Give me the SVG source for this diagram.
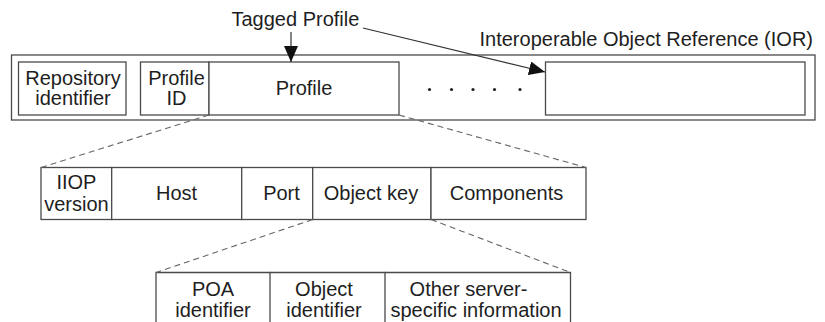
<svg xmlns="http://www.w3.org/2000/svg" width="825" height="322" viewBox="0 0 825 322">
  <style>
    text { font-family: "Liberation Sans", Arial, sans-serif; font-size: 20px; fill: #1e1e1e; }
    .mid { text-anchor: middle; }
    .box { fill: #ffffff; stroke: #4a4a4a; stroke-width: 1.3; }
    .edge { fill: none; stroke: #4a4a4a; stroke-width: 1.3; }
    .arrow { fill: none; stroke: #333333; stroke-width: 1.2; }
    .zoom { fill: none; stroke: #666666; stroke-width: 1.1; stroke-dasharray: 6 4; }
    .dot { fill: #222222; }
  </style>
  <defs>
    <marker id="head" markerUnits="userSpaceOnUse" markerWidth="16" markerHeight="14" refX="16" refY="7" orient="auto">
      <path d="M0,0 L16,7 L0,14 z" fill="#111111"/>
    </marker>
  </defs>

  <rect width="825" height="322" fill="#ffffff"/>

  <!-- Interoperable Object Reference container -->
  <g id="ior">
    <rect class="box" x="11.5" y="55" width="803.5" height="65"/>
    <text x="813" y="46" text-anchor="end">Interoperable Object Reference (IOR)</text>
  </g>

  <g id="repository-id">
    <rect class="box" x="18.5" y="62" width="107.5" height="53"/>
    <text class="mid" x="73" y="85">Repository</text>
    <text class="mid" x="73" y="105">identifier</text>
  </g>

  <g id="profile-id">
    <rect class="box" x="140.5" y="62" width="68.5" height="53"/>
    <text class="mid" x="176.5" y="85">Profile</text>
    <text class="mid" x="176.5" y="105">ID</text>
  </g>

  <g id="profile">
    <rect class="box" x="209" y="62" width="190" height="53"/>
    <text class="mid" x="304" y="95">Profile</text>
  </g>

  <g id="more-profiles">
    <circle class="dot" cx="429.5" cy="89.5" r="1.6"/>
    <circle class="dot" cx="451.5" cy="89.5" r="1.6"/>
    <circle class="dot" cx="473" cy="89.5" r="1.6"/>
    <circle class="dot" cx="494.5" cy="89.5" r="1.6"/>
    <circle class="dot" cx="520" cy="89.5" r="1.6"/>
  </g>

  <g id="tagged-profile-n">
    <rect class="box" x="545.5" y="62" width="259.5" height="53"/>
  </g>

  <!-- IIOP profile body -->
  <g id="iiop-version">
    <rect class="box" x="41" y="167.5" width="70.7" height="52"/>
    <text class="mid" x="76.4" y="189">IIOP</text>
    <text class="mid" x="76.4" y="210.5">version</text>
  </g>
  <g id="host">
    <rect class="box" x="111.7" y="167.5" width="130" height="52"/>
    <text class="mid" x="176.5" y="200">Host</text>
  </g>
  <g id="port">
    <rect class="box" x="241.7" y="167.5" width="71" height="52"/>
    <text class="mid" x="281.5" y="200">Port</text>
  </g>
  <g id="object-key">
    <rect class="box" x="312.7" y="167.5" width="118.3" height="52"/>
    <text class="mid" x="371" y="200">Object key</text>
  </g>
  <g id="components">
    <rect class="box" x="431" y="167.5" width="155" height="52"/>
    <text class="mid" x="506.5" y="200">Components</text>
  </g>

  <!-- Object key body (runs past the bottom edge) -->
  <g id="poa-identifier">
    <path class="edge" d="M156,330 V272.5 H270 V330"/>
    <text class="mid" x="213" y="295.5">POA</text>
    <text class="mid" x="213" y="317">identifier</text>
  </g>
  <g id="object-identifier">
    <path class="edge" d="M270,272.5 H385 V330"/>
    <text class="mid" x="324" y="295.5">Object</text>
    <text class="mid" x="324" y="317">identifier</text>
  </g>
  <g id="server-specific">
    <path class="edge" d="M385,272.5 H570.5 V330"/>
    <text class="mid" x="468.5" y="295.5">Other server-</text>
    <text class="mid" x="476" y="317">specific information</text>
  </g>

  <g id="connectors">
    <text x="231.5" y="26">Tagged Profile</text>
    <line class="arrow" x1="291" y1="32" x2="291" y2="62" marker-end="url(#head)"/>
    <line class="arrow" x1="363" y1="28" x2="545" y2="72" marker-end="url(#head)"/>
    <line class="zoom" x1="209" y1="115" x2="41" y2="167.5"/>
    <line class="zoom" x1="399" y1="115" x2="586" y2="167.5"/>
    <line class="zoom" x1="312.7" y1="219.5" x2="156" y2="272.5"/>
    <line class="zoom" x1="431" y1="219.5" x2="570.5" y2="272.5"/>
  </g>
</svg>
